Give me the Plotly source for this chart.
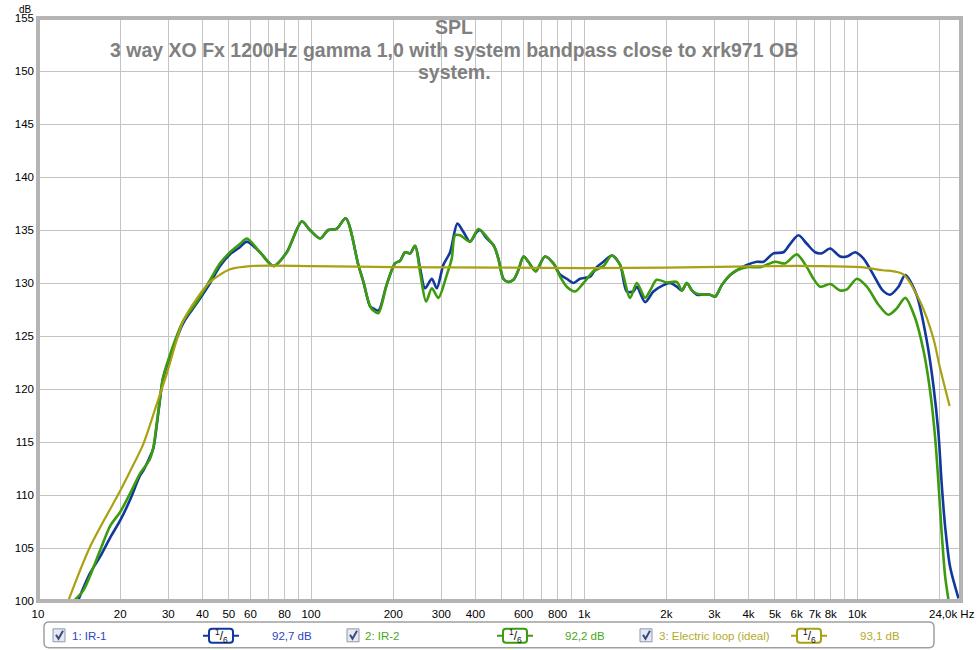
import plotly.graph_objects as go

# ---------------- data ----------------
ir1_freq = [14.0, 15.5, 16.9, 18.4, 20, 21.7, 23.6, 24.3, 25.7, 26.45, 27.2, 28.0, 28.7, 30.4, 34.0, 38.2,
            42.7, 46.4, 50.5, 55, 58.2, 65, 72.8, 81.5, 92.5, 99, 108, 115.6, 124, 134, 149, 155.5, 164.5,
            169, 176.5, 189, 203, 211.8, 221, 230.5, 240.5, 250.8, 261.6, 276.9, 288.7, 305, 323, 343.5,
            361.5, 382, 404, 416, 440, 465.6, 485.5, 506, 528, 551, 574, 600, 625, 652, 666, 719, 772,
            816, 864, 914, 967, 1052, 1112, 1177, 1264, 1355, 1433, 1515, 1560, 1673, 1794, 1952, 2065,
            2185, 2281, 2378, 2481, 2587, 2735, 2893, 3018, 3192, 3425, 3623, 3942, 4292, 4540, 4936,
            5370, 5685, 6097, 6541, 7018, 7424, 7962, 8664, 9168, 9836, 10550, 11480, 12400, 13200,
            14170, 15000, 16500, 18000, 19000, 19860, 20400, 21000, 21900, 23500]
ir1_db = [100.0, 102.6, 104.2, 106.0, 107.6, 109.5, 111.8, 112.3, 113.6, 114.4, 116.5, 119.1, 121.0, 123.0,
          126.2, 128.1, 130.0, 131.6, 132.7, 133.4, 133.9, 132.9, 131.6, 132.9, 135.8, 135.0, 134.2, 135.0,
          135.1, 136.1, 131.7, 130.1, 127.8, 127.6, 127.4, 129.8, 131.85, 132.1, 132.9, 132.8, 133.5,
          131.4, 129.5, 130.4, 129.5, 131.7, 132.9, 135.6, 134.8, 133.9, 134.8, 135.0, 134.2, 133.6,
          132.3, 130.4, 130.1, 130.3, 131.2, 132.5, 132.0, 131.3, 131.1, 132.5, 131.85, 130.8, 130.4,
          130.0, 130.4, 130.6, 131.5, 132.0, 132.6, 131.7, 129.2, 129.2, 129.65, 128.2, 129.2, 129.8,
          130.0, 129.65, 129.3, 130.0, 129.3, 128.9, 128.9, 128.9, 128.7, 129.8, 130.75, 131.2, 131.7,
          132.0, 132.0, 132.8, 132.9, 133.7, 134.5, 133.7, 132.9, 132.8, 133.25, 132.5, 132.5, 132.9,
          132.3, 130.75, 129.3, 128.9, 129.65, 130.75, 128.9, 124.5, 120.4, 115.7, 111.0, 107.0, 103.2,
          100.25]

ir2_freq = [13.5, 14.66, 16.9, 18.4, 20, 21.7, 23.6, 24.3, 25.7, 26.45, 27.2, 28.0, 28.7, 30.4, 34.0, 38.2,
            42.7, 46.4, 50.5, 55, 58.2, 65, 72.8, 81.5, 92.5, 99, 108, 115.6, 124, 134, 149, 155.5, 164.5,
            169, 176.5, 189, 203, 211.8, 221, 230.5, 240.5, 250.8, 263.8, 277, 292.5, 314, 327.5, 337,
            351.5, 382, 410, 440, 472, 490, 506, 528, 551, 574, 600, 625, 652, 666, 719, 772, 816, 864,
            927, 995, 1081, 1177, 1264, 1355, 1474, 1559, 1673, 1745, 1845, 2008, 2185, 2281, 2378, 2481,
            2587, 2735, 2893, 3018, 3192, 3425, 3623, 3942, 4414, 5008, 5448, 6010, 6541, 6918, 7318,
            7962, 8664, 9168, 9980, 10850, 11970, 13000, 13960, 15000, 16300, 17500, 18500, 19300, 19860,
            20400, 21000, 21600]
ir2_db = [100.0, 101.0, 104.8, 107.1, 108.4, 110.1, 112.0, 112.45, 113.4, 114.5, 116.7, 119.2, 121.05, 123.2,
          126.4, 128.25, 130.3, 131.85, 132.9, 133.7, 134.2, 132.9, 131.6, 132.9, 135.8, 135.0, 134.2,
          135.0, 135.1, 136.1, 131.7, 130.1, 127.8, 127.4, 127.15, 129.8, 131.85, 132.1, 132.9, 132.8,
          133.5, 131.0, 128.25, 129.5, 128.6, 130.75, 132.3, 134.5, 134.5, 133.9, 135.1, 134.35, 133.25,
          131.8, 130.4, 130.1, 130.3, 131.2, 132.5, 132.0, 131.3, 131.1, 132.5, 131.85, 130.6, 129.65,
          129.2, 130.0, 131.1, 131.6, 132.6, 131.7, 128.6, 130.0, 128.6, 129.3, 130.3, 130.05, 130.1,
          129.3, 130.0, 129.3, 129.0, 128.9, 128.9, 128.7, 129.8, 130.75, 131.2, 131.5, 131.5, 132.0,
          131.85, 132.7, 131.5, 130.4, 129.65, 129.9, 129.3, 129.4, 130.4, 129.65, 127.95, 127.0, 127.6,
          128.6, 126.7, 123.6, 119.8, 115.4, 111.0, 106.35, 102.3, 100.1]

loop_freq = [12.9, 15.5, 20, 21.7, 24.3, 27.2, 29.6, 34.0, 38.2, 42.7, 50.5, 59.8, 100, 200, 500, 1000,
             2000, 5000, 7000, 10300, 12400, 13600, 14800, 17000, 19000, 20100, 21800]
loop_db = [100.0, 105.1, 110.4, 112.2, 114.8, 118.55, 121.4, 126.4, 128.55, 130.1, 131.3, 131.6, 131.6,
           131.5, 131.45, 131.4, 131.45, 131.6, 131.6, 131.5, 131.2, 131.1, 130.8, 128.25, 124.8, 122.0,
           118.4]

series_names = ["1: IR-1", "2: IR-2", "3: Electric loop (ideal)"]
series_levels = ["92,7 dB", "92,2 dB", "93,1 dB"]

x_labels_at = [10, 20, 30, 40, 50, 60, 80, 100, 200, 300, 400, 600, 800,
               1000, 2000, 3000, 4000, 5000, 6000, 7000, 8000, 10000]
x_labels = ["10", "20", "30", "40", "50", "60", "80", "100", "200", "300", "400", "600", "800",
            "1k", "2k", "3k", "4k", "5k", "6k", "7k", "8k", "10k"]
x_grid_only = [70, 90, 500, 700, 900, 9000, 20000]
x_end_label = "24,0k Hz"
y_ticks = [100, 105, 110, 115, 120, 125, 130, 135, 140, 145, 150, 155]

title_lines = ["SPL", "3 way XO Fx 1200Hz gamma 1,0 with system bandpass close to xrk971 OB", "system."]

# ---------------- styling ----------------
C_BLUE = "#12389e"
C_GREEN = "#3c9c0e"
C_OLIVE = "#a8a212"
TXT_BLUE = "#2a46c4"
TXT_GREEN = "#46a818"
TXT_OLIVE = "#b4aa2a"
FONT = "Liberation Sans, Arial, sans-serif"

L, R, T, B = 38, 961, 15, 601
W, H = R - L, B - T


def px(x):
    return (x - L) / W


def py(y):
    return (B - y) / H


def rrect(x0, y0, x1, y1, r):
    pts = [
        ("M", x0 + r, y0), ("L", x1 - r, y0), ("Q", x1, y0, x1, y0 + r), ("L", x1, y1 - r),
        ("Q", x1, y1, x1 - r, y1), ("L", x0 + r, y1), ("Q", x0, y1, x0, y1 - r), ("L", x0, y0 + r),
        ("Q", x0, y0, x0 + r, y0),
    ]
    s = ""
    for p in pts:
        if p[0] == "Q":
            s += f"Q{px(p[1]):.5f},{py(p[2]):.5f} {px(p[3]):.5f},{py(p[4]):.5f} "
        else:
            s += f"{p[0]}{px(p[1]):.5f},{py(p[2]):.5f} "
    return s + "Z"


fig = go.Figure()
for f, d, c, w in [(ir1_freq, ir1_db, C_BLUE, 2.6), (ir2_freq, ir2_db, C_GREEN, 2.6),
                   (loop_freq, loop_db, C_OLIVE, 2.2)]:
    fig.add_trace(go.Scatter(x=f, y=d, mode="lines", line=dict(color=c, width=w, shape="spline",
                                                               smoothing=0.8),
                             hoverinfo="skip", showlegend=False))

shapes = []
shapes.append(dict(type="rect", xref="paper", yref="paper", x0=0, x1=1, y0=0, y1=1,
                   line=dict(color="#b4b4b4", width=4), layer="above"))

shapes.append(dict(type="path", xref="paper", yref="paper", path=rrect(44, 622, 934, 648, 5),
                   line=dict(color="#a0a0a0", width=1.5), fillcolor="white"))

annotations = []
legend_items = [
    (53, 70, 221, 270, TXT_BLUE, C_BLUE),
    (347, 363, 515, 563, TXT_GREEN, C_GREEN),
    (640, 657, 809, 858, TXT_OLIVE, C_OLIVE),
]
yc = 636
for i, (cbx, tx, sx, lx, tcol, lcol) in enumerate(legend_items):
    shapes.append(dict(type="rect", xref="paper", yref="paper", x0=px(cbx), x1=px(cbx + 12),
                       y0=py(yc + 6), y1=py(yc - 7), line=dict(color="#8a98aa", width=1),
                       fillcolor="#e6eaf0"))
    shapes.append(dict(type="path", xref="paper", yref="paper",
                       path=f"M{px(cbx + 3):.5f},{py(yc - 1):.5f} L{px(cbx + 5.5):.5f},{py(yc + 3):.5f} "
                            f"L{px(cbx + 10):.5f},{py(yc - 5):.5f}",
                       line=dict(color="#3a4a86", width=2)))
    annotations.append(dict(x=px(tx), y=py(yc), xref="paper", yref="paper", text=series_names[i],
                            showarrow=False, xanchor="left", yanchor="middle",
                            font=dict(family=FONT, size=11.5, color=tcol)))
    shapes.append(dict(type="line", xref="paper", yref="paper", x0=px(sx - 18), x1=px(sx + 18),
                       y0=py(yc), y1=py(yc), line=dict(color=lcol, width=2)))
    shapes.append(dict(type="path", xref="paper", yref="paper", path=rrect(sx - 12, yc - 7, sx + 12, yc + 7, 3),
                       line=dict(color=lcol, width=2), fillcolor="white"))
    annotations.append(dict(x=px(sx), y=py(yc), xref="paper", yref="paper",
                            text="<sup>1</sup>/<sub>6</sub>", showarrow=False,
                            xanchor="center", yanchor="middle",
                            font=dict(family=FONT, size=12, color="#111111")))
    annotations.append(dict(x=px(lx), y=py(yc), xref="paper", yref="paper", text=series_levels[i],
                            showarrow=False, xanchor="left", yanchor="middle",
                            font=dict(family=FONT, size=11.5, color=tcol)))

for txt, yy in zip(title_lines, [24, 47, 69]):
    annotations.append(dict(x=px(454), y=py(yy), xref="paper", yref="paper", text=f"<b>{txt}</b>",
                            showarrow=False, xanchor="center", yanchor="middle",
                            font=dict(family=FONT, size=19.5, color="#808080")))

annotations.append(dict(x=px(25), y=py(6), xref="paper", yref="paper", text="dB", showarrow=False,
                        xanchor="center", yanchor="middle", font=dict(family=FONT, size=10, color="#000")))
annotations.append(dict(x=px(977), y=py(614), xref="paper", yref="paper", text=x_end_label, showarrow=False,
                        xanchor="right", yanchor="middle", font=dict(family=FONT, size=11.5, color="#000")))

fig.update_layout(
    width=979, height=650,
    margin=dict(l=L, r=979 - R, t=T, b=650 - B),
    paper_bgcolor="white", plot_bgcolor="white",
    font=dict(family=FONT, size=11.5, color="#000"),
    shapes=shapes, annotations=annotations,
    xaxis=dict(type="log", range=[1, 4.380211], tickvals=x_labels_at, ticktext=x_labels,
               showgrid=True, gridcolor="#c4c4c4", gridwidth=1, zeroline=False, showline=False,
               ticks="", tickfont=dict(family=FONT, size=11.5, color="#000"), ticklabelstandoff=4,
               minor=dict(tickvals=x_grid_only, showgrid=True, gridcolor="#c4c4c4", gridwidth=1, ticks="")),
    yaxis=dict(range=[100, 155], tickvals=y_ticks, showgrid=True, gridcolor="#c4c4c4", gridwidth=1,
               zeroline=False, showline=False, ticks="", tickfont=dict(family=FONT, size=11.5, color="#000"),
               ticklabelstandoff=3),
)

fig.write_html("out.html", config={"displayModeBar": False},
               post_script="document.body.style.margin='0';document.body.style.padding='0';")
